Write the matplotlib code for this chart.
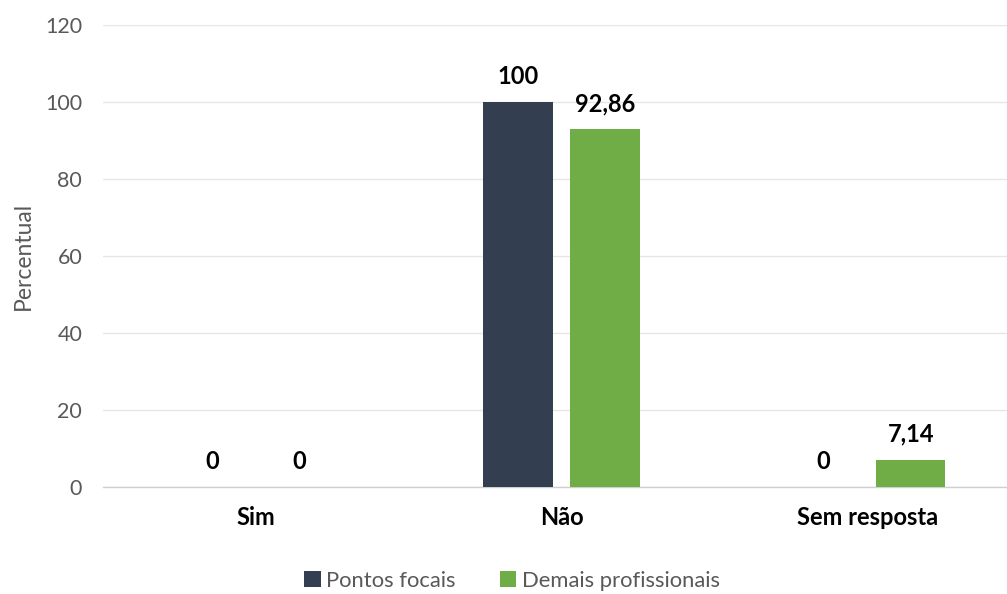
import matplotlib
matplotlib.use("Agg")
import matplotlib.pyplot as plt
import numpy as np

categories = ["Sim", "Não", "Sem resposta"]
pontos_focais = [0, 100, 0]
demais_profissionais = [0, 92.86, 7.14]
series_names = ["Pontos focais", "Demais profissionais"]
yticks = [0, 20, 40, 60, 80, 100, 120]

def fmt(v):
    s = f"{v:.2f}".rstrip("0").rstrip(".")
    return s.replace(".", ",")

plt.rcParams['font.family'] = ['Lato', 'DejaVu Sans']

fig = plt.figure(figsize=(10.07, 5.94), dpi=100)
ax = fig.add_axes([103/1007, 107/594, (1020-103)/1007, (487-25)/594])

x = np.arange(len(categories))
w = 0.226
off = 0.1424
c1, c2 = "#333F50", "#70AD47"
b1 = ax.bar(x - off, pontos_focais, w, color=c1, label=series_names[0], zorder=3)
b2 = ax.bar(x + off, demais_profissionais, w, color=c2, label=series_names[1], zorder=3)

for bars, vals in ((b1, pontos_focais), (b2, demais_profissionais)):
    for b, v in zip(bars, vals):
        ax.annotate(fmt(v), (b.get_x() + b.get_width()/2, v), xytext=(0, 10),
                    textcoords="offset points", ha="center", va="bottom",
                    fontsize=17, fontweight="bold", color="black")

ax.set_xlim(-0.5, 2.5)
ax.set_ylim(0, 120)
ax.set_yticks(yticks)
ax.set_yticklabels([str(t) for t in yticks], fontsize=15.5, color="#595959")
ax.set_xticks(x)
ax.set_xticklabels(categories, fontsize=17, fontweight="bold", color="black")
ax.tick_params(axis="both", length=0)
ax.tick_params(axis="y", pad=15)
ax.tick_params(axis="x", pad=14)
ax.yaxis.grid(True, color="#E6E6E6", linewidth=1, zorder=0)
for s in ["top", "right", "left"]:
    ax.spines[s].set_visible(False)
ax.spines["bottom"].set_color("#D0D0D0")
ax.spines["bottom"].set_linewidth(1)
ax.set_ylabel("Percentual", fontsize=16.5, color="#595959", labelpad=8)

fig.legend(handles=[b1, b2], labels=series_names, loc="center",
           bbox_to_anchor=(512/1007, 1 - 581/594), ncol=2, frameon=False,
           fontsize=15.8, labelcolor="#595959", handlelength=0.75, handleheight=0.75,
           handletextpad=0.25, columnspacing=2.0)

fig.savefig("out.png", dpi=100)
